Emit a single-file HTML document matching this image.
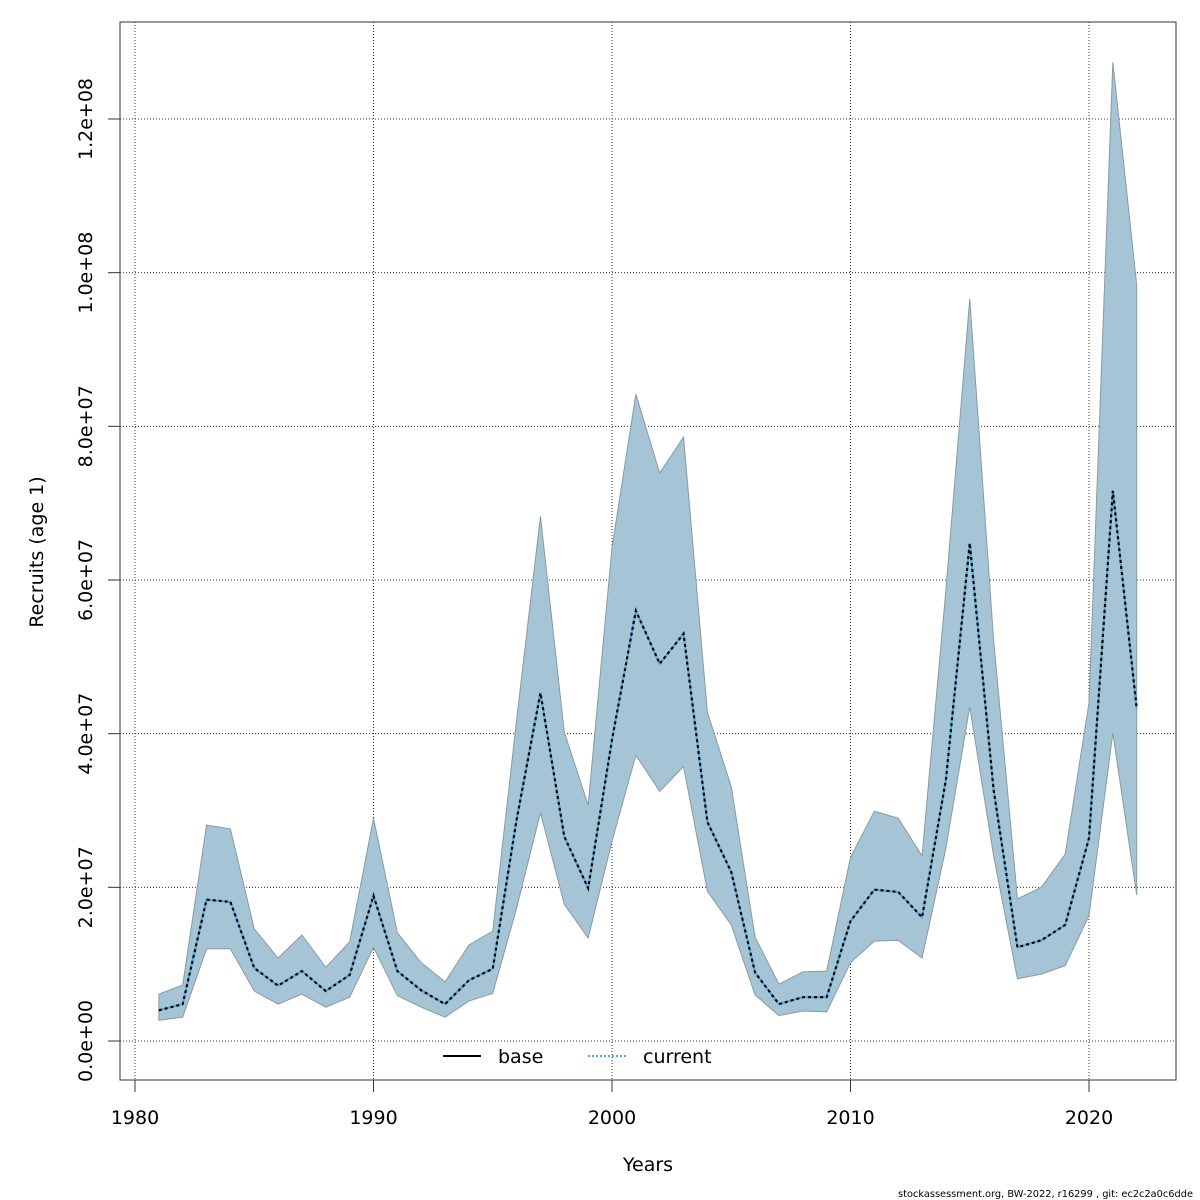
<!DOCTYPE html>
<html><head><meta charset="utf-8"><style>
body{margin:0;background:#fff}
svg{display:block;font-family:"DejaVu Sans","Liberation Sans",sans-serif}
</style></head><body>
<svg id="chart" width="1200" height="1200" viewBox="0 0 1200 1200" xmlns="http://www.w3.org/2000/svg">
<rect width="1200" height="1200" fill="#fff"/>
<g id="grid"></g>
<g id="band"></g>
<g id="lines"></g>
<g id="axes"></g>
<g>
<line x1="443" y1="1056" x2="481" y2="1056" stroke="#000" stroke-width="2"/>
<text x="498" y="1063" font-size="19">base</text>
<line x1="588" y1="1056" x2="626" y2="1056" stroke="#4da9d8" stroke-width="2" stroke-dasharray="2,2"/>
<text x="643" y="1063" font-size="19">current</text>
</g>
<text x="648" y="1171" font-size="19" text-anchor="middle">Years</text>
<text transform="translate(43,552) rotate(-90)" font-size="19" text-anchor="middle">Recruits (age 1)</text>
<text x="1193" y="1197" font-size="9.8" text-anchor="end">stockassessment.org, BW-2022, r16299 , git: ec2c2a0c6dde</text>
</svg>
<script>
const years=[1981,1982,1983,1984,1985,1986,1987,1988,1989,1990,1991,1992,1993,1994,1995,1996,1997,1998,1999,2000,2001,2002,2003,2004,2005,2006,2007,2008,2009,2010,2011,2012,2013,2014,2015,2016,2017,2018,2019,2020,2021,2022];
const estimate=[4.0,4.8,18.4,18.1,9.5,7.2,9.1,6.5,8.6,18.9,9.1,6.6,4.8,7.9,9.4,28.8,45.3,26.6,19.9,39.2,56.0,49.1,53.0,28.5,22.0,8.9,4.8,5.7,5.7,15.6,19.7,19.4,16.1,34.0,64.8,32.7,12.2,13.1,15.1,26.4,71.6,43.3];
const upper=[6.1,7.3,28.1,27.6,14.6,10.8,13.8,9.6,12.9,29.0,14.1,10.2,7.7,12.5,14.3,41.8,68.3,40.2,30.7,64.2,84.2,73.9,78.6,42.8,33.1,13.5,7.4,9.0,9.1,23.9,29.9,29.0,24.1,58.7,96.6,52.2,18.5,20.0,24.3,44.0,127.4,98.4];
const lower=[2.7,3.1,12.0,12.0,6.5,4.8,6.1,4.4,5.7,12.2,5.9,4.4,3.1,5.2,6.2,17.3,29.7,17.8,13.4,26.0,37.2,32.5,35.7,19.5,15.1,6.0,3.3,3.9,3.8,10.2,13.0,13.1,10.8,25.1,43.5,24.1,8.1,8.7,9.8,16.3,40.1,19.0];
const xTicks=[1980,1990,2000,2010,2020];
const yTicks=[0,20,40,60,80,100,120];
const yTickLabels=["0.0e+00","2.0e+07","4.0e+07","6.0e+07","8.0e+07","1.0e+08","1.2e+08"];
const L=120,R=1176,T=22,B=1080;
const xs=y=>135+(y-1980)*(1089-135)/40;
const ys=v=>1041-v*(1041-119)/120;
const NS="http://www.w3.org/2000/svg";
function mk(tag,attrs,parent){const e=document.createElementNS(NS,tag);for(const k in attrs)e.setAttribute(k,attrs[k]);document.getElementById(parent).appendChild(e);return e;}
xTicks.forEach(t=>{
const g=mk('line',{x1:xs(t),x2:xs(t),y1:T,y2:B,stroke:'#333','stroke-width':1,'stroke-dasharray':'1,2'},'grid');


const tk=mk('line',{x1:xs(t),x2:xs(t),y1:B,y2:B+12,stroke:'#333','stroke-width':1},'axes');


const tx=mk('text',{x:xs(t),y:1124,'font-size':19,'text-anchor':'middle'},'axes');
tx.textContent=t;


});
yTicks.forEach((t,i)=>{
const g=mk('line',{x1:L,x2:R,y1:ys(t),y2:ys(t),stroke:'#333','stroke-width':1,'stroke-dasharray':'1,2'},'grid');


const tk=mk('line',{x1:L-12,x2:L,y1:ys(t),y2:ys(t),stroke:'#333','stroke-width':1},'axes');


const tx=mk('text',{transform:`translate(92,${ys(t)}) rotate(-90)`,'font-size':19,'text-anchor':'middle'},'axes');
tx.textContent=yTickLabels[i];


});
const box=mk('rect',{x:L,y:T,width:R-L,height:B-T,fill:'none',stroke:'#333','stroke-width':1},'axes');


let pts=years.map((y,i)=>xs(y)+','+ys(upper[i]));
pts=pts.concat(years.map((y,i)=>xs(y)+','+ys(lower[i])).reverse());
const band=mk('polygon',{points:pts.join(' '),fill:'#a5c4d5',stroke:'#8a9aa3','stroke-width':1},'band');


const lp=years.map((y,i)=>xs(y)+','+ys(estimate[i])).join(' ');
const cl=mk('polyline',{points:lp,fill:'none',stroke:'#4da9d8','stroke-width':2},'lines');


const bl=mk('polyline',{points:lp,fill:'none',stroke:'#000','stroke-width':2.2,'stroke-dasharray':'3,3'},'lines');


</script>
</body></html>
